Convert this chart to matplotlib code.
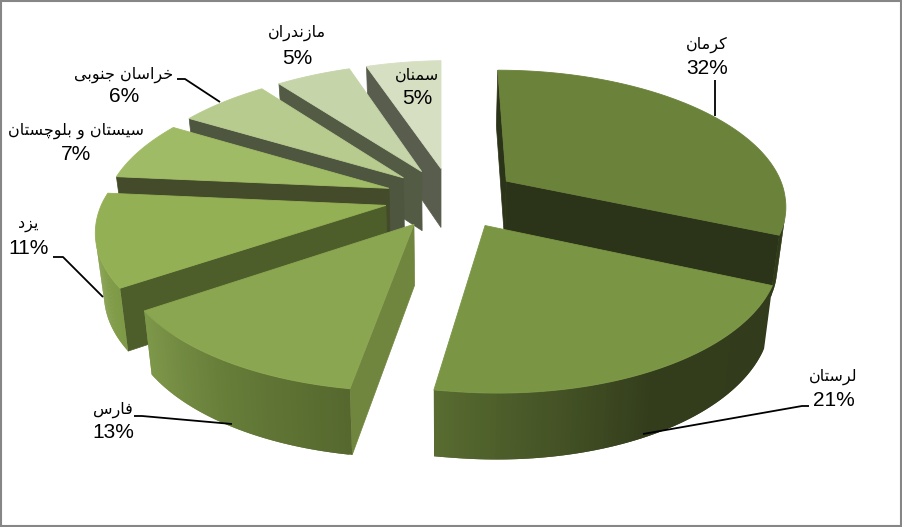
import numpy as np
import matplotlib
matplotlib.use('Agg')
from matplotlib import pyplot as plt
from matplotlib.colors import to_rgb
from matplotlib.patches import Polygon, Rectangle

# clockwise from 12 o'clock
names = ['کرمان', 'لرستان', 'فارس', 'یزد', 'سیستان و بلوچستان', 'خراسان جنوبی', 'مازندران', 'سمنان']
values = [31.5, 21.4, 13, 11, 7, 6, 5, 5]
pct_labels = ['32%', '21%', '13%', '11%', '7%', '6%', '5%', '5%']

top_colors = ['#6B823B', '#7A9645', '#8BA651', '#94B055', '#A0BB66', '#B8CB8F', '#C5D4A9', '#D7DFC3']
cut_colors = ['#2B3318', '#2B3318', '#70863E', '#4E5E2B', '#434B2A', '#4F5640', '#535B45', '#595D4E']
# outer wall colour at start, middle and end of each arc
wall_colors = [
    ['#2F3A18', '#2F3A18', '#2F3A18'],
    ['#323C1C', '#333D1C', '#586B30'],
    ['#56682E', '#667D39', '#7E984A'],
    ['#7F9A47', '#84A04C', '#84A04C'],
    ['#8AA552', '#8AA552', '#8AA552'],
    ['#9DB070', '#9DB070', '#9DB070'],
    ['#A5B48A', '#A5B48A', '#A5B48A'],
    ['#B5BDA0', '#B5BDA0', '#B5BDA0'],
]

# label text centres and leader lines, in pixels
name_pos = [(707, 45), (833, 377), (113, 410), (28, 225), (76, 131), (124, 75), (297, 33), (417, 75)]
pct_pos = [(707, 69), (834, 400), (113, 433), (29, 249), (76, 154), (124, 97), (297, 58), (417, 98)]
leaders = [
    [(715, 80), (715, 116)],
    [(809, 406), (802, 406), (643, 434)],
    [(134, 416), (142, 416), (232, 424)],
    [(53, 257), (63, 257), (103, 297)],
    [(177, 79), (185, 79), (220, 102)],
]

# camera and pie shape
RADIUS = 290
RADIUS_X_RIGHT = 0.965
RADIUS_X_LEFT = 0.98
EXPLODE = 67
HEIGHT = 60
VX, CX, CY = 441, 451.5, 197.6
SQUASH = 0.457
PERSP = 0.000526
BOTTOM_SHRINK = 0.975
SHEAR_FRONT = 0.03
SAG_LEFT = 0.015
DRAW_ORDER = [7, 6, 5, 4, 3, 0, 2, 1]

FORMS = {
    'ا': 'ﺍﺎ', 'د': 'ﺩﺪ', 'ر': 'ﺭﺮ', 'ز': 'ﺯﺰ', 'و': 'ﻭﻮ',
    'ب': 'ﺏﺐﺑﺒ', 'ت': 'ﺕﺖﺗﺘ', 'ج': 'ﺝﺞﺟﺠ', 'خ': 'ﺥﺦﺧﺨ', 'س': 'ﺱﺲﺳﺴ',
    'ف': 'ﻑﻒﻓﻔ', 'ل': 'ﻝﻞﻟﻠ', 'م': 'ﻡﻢﻣﻤ', 'ن': 'ﻥﻦﻧﻨ',
    'ک': '\ufb8e\ufb8f\ufb90\ufb91', 'چ': '\ufb7a\ufb7b\ufb7c\ufb7d', 'ی': '\ufbfc\ufbfd\ufbfe\ufbff',
}


def shape(text):
    # matplotlib does no arabic shaping, so pick the joined forms and reverse
    out = []
    for i, ch in enumerate(text):
        if ch not in FORMS:
            out.append(ch)
            continue
        prev = text[i - 1] if i > 0 else ' '
        nxt = text[i + 1] if i + 1 < len(text) else ' '
        joins_prev = prev in FORMS and len(FORMS[prev]) == 4
        joins_next = nxt in FORMS and len(FORMS[ch]) == 4
        if joins_prev and joins_next:
            out.append(FORMS[ch][3])
        elif joins_prev:
            out.append(FORMS[ch][1])
        elif joins_next:
            out.append(FORMS[ch][2])
        else:
            out.append(FORMS[ch][0])
    return ''.join(reversed(out))


def project(x, y, bottom=False):
    w = 1 + PERSP * y
    sx = VX + (x + CX - VX) / w
    sy = CY - SQUASH * y / w
    # small corrections, the original camera is not quite this simple
    sx = sx + SHEAR_FRONT * np.maximum(sy - CY, 0)
    sy = sy + SAG_LEFT * np.maximum(CX - sx, 0)
    if bottom:
        sx = VX + (sx - VX) * BOTTOM_SHRINK
        sy = sy + HEIGHT / np.sqrt(w)
    return np.column_stack([sx, sy])


def wall_color(stops, t):
    a, b, c = [np.array(to_rgb(s)) for s in stops]
    return a + (b - a) * t * 2 if t < 0.5 else b + (c - b) * (t - 0.5) * 2


def facing(poly):
    x, y = poly[:, 0], poly[:, 1]
    return np.sum(x * np.roll(y, -1) - np.roll(x, -1) * y) / 2


fig = plt.figure(figsize=(9.02, 5.27), dpi=100)
ax = fig.add_axes([0, 0, 1, 1])
ax.set_xlim(0, 902)
ax.set_ylim(527, 0)
ax.axis('off')

edges = np.cumsum([0] + values) / sum(values) * 2 * np.pi

for idx in DRAW_ORDER:
    t0, t1 = edges[idx], edges[idx + 1]
    mid = (t0 + t1) / 2
    ox, oy = EXPLODE * np.sin(mid), EXPLODE * np.cos(mid)
    th = np.linspace(t0, t1, 90)
    sin_th = np.sin(th)
    rx = ox + RADIUS * np.where(sin_th < 0, RADIUS_X_LEFT, RADIUS_X_RIGHT) * sin_th
    ry = oy + RADIUS * np.cos(th)
    apex_top = project(np.array([ox]), np.array([oy]))
    apex_bot = project(np.array([ox]), np.array([oy]), bottom=True)
    rim_top = project(rx, ry)
    rim_bot = project(rx, ry, bottom=True)

    # cut faces, kept only if they turn towards the viewer
    start_face = np.vstack([apex_top, rim_top[:1], rim_bot[:1], apex_bot])
    end_face = np.vstack([apex_top, apex_bot, rim_bot[-1:], rim_top[-1:]])
    for face in (start_face, end_face):
        if facing(face) < 0:
            ax.add_patch(Polygon(face, closed=True, fc=cut_colors[idx], ec=cut_colors[idx], lw=0.5))

    # outer wall in strips for the gradient, each one overlaps the next to hide seams
    for j in range(len(th) - 1):
        quad = np.vstack([rim_top[j], rim_top[j + 1], rim_bot[j + 1], rim_bot[j]])
        if facing(quad) < 0:
            k = min(j + 2, len(th) - 1)
            wide = np.vstack([rim_top[j], rim_top[k], rim_bot[k], rim_bot[j]])
            col = wall_color(wall_colors[idx], j / (len(th) - 2))
            ax.add_patch(Polygon(wide, closed=True, fc=col, ec='none'))

    top = np.vstack([apex_top, rim_top])
    ax.add_patch(Polygon(top, closed=True, fc=top_colors[idx], ec=top_colors[idx], lw=0.6))

for pts in leaders:
    xs, ys = zip(*pts)
    ax.plot(xs, ys, color='black', lw=1.3, solid_capstyle='butt')

for name, pct, np_, pp in zip(names, pct_labels, name_pos, pct_pos):
    ax.text(np_[0], np_[1], shape(name), ha='center', va='center', fontsize=11.5,
            family=['DejaVu Sans'], color='black')
    ax.text(pp[0], pp[1], pct, ha='center', va='center', fontsize=15,
            family=['Liberation Sans'], color='black')

ax.add_patch(Rectangle((1, 1), 900, 525, fill=False, ec='#868686', lw=1.5))

fig.savefig('out.png', dpi=100)
